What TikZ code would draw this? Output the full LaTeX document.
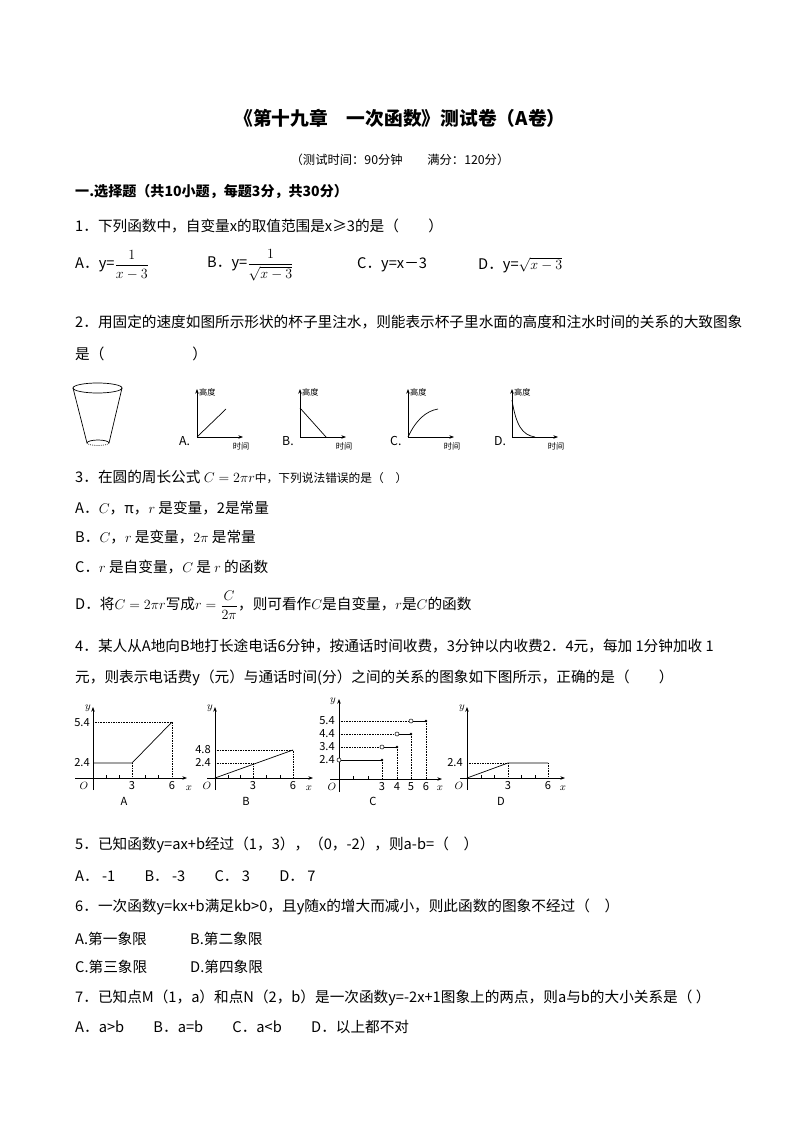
\documentclass[tikz,border=0pt]{standalone}
\usepackage{fontspec}
\setmainfont{Noto Sans CJK SC}
\usepackage{amsmath}
\usetikzlibrary{arrows.meta}
\tikzset{
  txt/.style={anchor=west, inner sep=0pt, font=\fontsize{12.5}{15}\selectfont},
  sml/.style={inner sep=0pt, font=\fontsize{7}{8}\selectfont},
  tnum/.style={inner sep=0pt, font=\fontsize{9.5}{11}\selectfont\rmfamily},
  ax/.style={-{Stealth[length=4pt]}, line width=0.6pt},
  guide/.style={densely dotted, line width=0.4pt},
  opn/.style={circle, draw, fill=white, inner sep=0pt, minimum size=3.5pt},
  cls/.style={circle, fill, inner sep=0pt, minimum size=2.5pt},
}
\begin{document}
\begin{tikzpicture}[x=0.03cm, y=-0.03cm]
  \useasboundingbox (0,0) rectangle (800,1132);
  \fill [white] (0,0) rectangle (800,1132);

  % heading
  \node [inner sep=0pt, font=\fontsize{16}{19}\selectfont\bfseries] (title) at (400,118) {《第十九章\quad 一次函数》测试卷（A卷）};
  \node [inner sep=0pt, font=\fontsize{10.5}{12}\selectfont] (time) at (400,160) {（测试时间：90分钟\qquad 满分：120分）};
  \node [txt, font=\fontsize{12}{14}\selectfont\bfseries] (sec) at (75,192) {一.选择题（共10小题，每题3分，共30分）};

  % question 1
  \node [txt] (q1) at (75,226) {1．下列函数中，自变量x的取值范围是x≥3的是（\qquad ）};
  \node [txt] (q1a) at (75,265) {A．y=\large$\dfrac{1}{x-3}$};
  \node [txt] (q1b) at (207,265) {B．y=\large$\dfrac{1}{\sqrt{x-3}}$};
  \node [txt] (q1c) at (357,265) {C．y=x－3};
  \node [txt] (q1d) at (478,265) {D．y=\large$\sqrt{x-3}$};

  % question 2
  \node [txt] (q2) at (75,322) {2．用固定的速度如图所示形状的杯子里注水，则能表示杯子里水面的高度和注水时间的关系的大致图象};
  \node [txt] (q2b) at (75,354) {是（\qquad\qquad\qquad ）};

  % cup
  \draw [line width=0.6pt] (97.5,388) ellipse (24.5 and 5);
  \draw [line width=0.6pt] (73,388) -- (87,443) (122,388) -- (109,443);
  \draw [line width=0.6pt] (87,443) arc (180:360:11 and 3);
  \draw [densely dotted, line width=0.6pt] (87,443) arc (180:0:11 and 2.5);

  % answer graphs for question 2
  \foreach \ox/\lab in {197/A, 300/B, 408/C, 512/D}{
    \draw [ax] (\ox,437) -- (\ox+46,437);
    \draw [ax] (\ox,437) -- (\ox,389);
    \node [sml, anchor=west] at (\ox+2,392) {高度};
    \node [sml] at (\ox+44,446) {时间};
    \node [txt, font=\fontsize{10.5}{12}\selectfont] at (\ox-18,441) {\lab.};
  }
  \draw [line width=0.6pt] (197,437) -- (226,409);
  \draw [line width=0.6pt] (300,408) -- (326,437);
  \draw [line width=0.6pt] (408,437) .. controls (416,420) and (426,411) .. (438,409);
  \draw [line width=0.6pt] (512,400) .. controls (516,425) and (522,435) .. (535,437);

  % question 3
  \node [txt] (q3) at (75,477) {3．在圆的周长公式 \large$C=2\pi r$\normalsize 中，下列说法错误的是（\quad ）};
  \node [txt] (q3a) at (75,508) {A．$C$，π，$r$ 是变量，2是常量};
  \node [txt] (q3b) at (75,537) {B．$C$，$r$ 是变量，$2\pi$ 是常量};
  \node [txt] (q3c) at (75,567) {C．$r$ 是自变量，$C$ 是 $r$ 的函数};
  \node [txt] (q3d) at (75,605) {D．将$C=2\pi r$写成$r=\dfrac{C}{2\pi}$，则可看作$C$是自变量，$r$是$C$的函数};

  % question 4
  \node [txt] (q4) at (75,646) {4．某人从A地向B地打长途电话6分钟，按通话时间收费，3分钟以内收费2．4元，每加 1分钟加收 1};
  \node [txt] (q4b) at (75,678) {元，则表示电话费y（元）与通话时间(分）之间的关系的图象如下图所示，正确的是（\qquad ）};

  % graph A
  \draw [ax] (75,778) -- (187,778);
  \draw [ax] (93,790) -- (93,707);
  \foreach \tx in {106,119,145,158}{\draw (\tx,778) -- (\tx,775);}
  \draw [line width=0.6pt] (93,763) -- (132,763) -- (172,722);
  \draw [guide] (93,722) -- (172,722) -- (172,778) (132,763) -- (132,778);
  \node [tnum] at (82,723) {5.4};
  \node [tnum] at (82,763) {2.4};
  \node [tnum] at (84,786) {$O$};
  \node [tnum] at (132,786) {3};
  \node [tnum] at (172,786) {6};
  \node [tnum] at (189,788) {$x$};
  \node [tnum] at (88,708) {$y$};
  \node [tnum] at (124,801) {A};

  % graph B
  \draw [ax] (207,778) -- (313,778);
  \draw [ax] (215,790) -- (215,707);
  \foreach \tx in {228,240,266,280}{\draw (\tx,778) -- (\tx,775);}
  \draw [line width=0.6pt] (215,778) -- (293,750);
  \draw [guide] (215,750) -- (293,750) -- (293,778) (215,763) -- (253,763) -- (253,778);
  \node [tnum] at (203,750) {4.8};
  \node [tnum] at (203,763) {2.4};
  \node [tnum] at (207,786) {$O$};
  \node [tnum] at (253,786) {3};
  \node [tnum] at (293,786) {6};
  \node [tnum] at (309,788) {$x$};
  \node [tnum] at (210,708) {$y$};
  \node [tnum] at (246,801) {B};

  % graph C
  \draw [ax] (330,779) -- (442,779);
  \draw [ax] (339,792) -- (339,699);
  \foreach \tx in {353,368}{\draw (\tx,779) -- (\tx,776);}
  \foreach \ya/\yb/\xa/\xb in {760/2.4/339/382, 747/3.4/382/397, 734/4.4/397/411, 721/5.4/411/426}{
    \draw [guide] (339,\ya) -- (\xa,\ya) (\xb,\ya) -- (\xb,779);
    \draw [line width=0.6pt] (\xa,\ya) -- (\xb,\ya);
    \node [opn] at (\xa,\ya) {};
    \node [cls] at (\xb,\ya) {};
    \node [tnum] at (327,\ya) {\yb};
  }
  \node [tnum] at (332,787) {$O$};
  \node [tnum] at (382,787) {3};
  \node [tnum] at (397,787) {4};
  \node [tnum] at (411,787) {5};
  \node [tnum] at (426,787) {6};
  \node [tnum] at (440,788) {$x$};
  \node [tnum] at (333,701) {$y$};
  \node [tnum] at (373,801) {C};

  % graph D
  \draw [ax] (460,778) -- (565,778);
  \draw [ax] (467,790) -- (467,707);
  \foreach \tx in {481,494,521,535}{\draw (\tx,778) -- (\tx,775);}
  \draw [line width=0.6pt] (467,778) -- (508,763) -- (548,763);
  \draw [guide] (467,763) -- (508,763) (508,763) -- (508,778) (548,763) -- (548,778);
  \node [tnum] at (455,763) {2.4};
  \node [tnum] at (459,786) {$O$};
  \node [tnum] at (508,786) {3};
  \node [tnum] at (548,786) {6};
  \node [tnum] at (563,788) {$x$};
  \node [tnum] at (462,708) {$y$};
  \node [tnum] at (501,801) {D};

  % questions 5 to 7
  \node [txt] (q5) at (75,845) {5．已知函数y=ax+b经过（1，3），（0，-2），则a-b=（\quad ）};
  \node [txt] (q5a) at (75,876) {A． -1\qquad B． -3\qquad C． 3\qquad D． 7};
  \node [txt] (q6) at (75,907) {6．一次函数y=kx+b满足kb>0，且y随x的增大而减小，则此函数的图象不经过（\quad ）};
  \node [txt] (q6a) at (75,939) {A.第一象限};
  \node [txt] (q6b) at (190,939) {B.第二象限};
  \node [txt] (q6c) at (75,967) {C.第三象限};
  \node [txt] (q6d) at (190,967) {D.第四象限};
  \node [txt] (q7) at (75,998) {7．已知点M（1，a）和点N（2，b）是一次函数y=-2x+1图象上的两点，则a与b的大小关系是（\ ）};
  \node [txt] (q7a) at (75,1027) {A．a>b\qquad B．a=b\qquad C．a<b\qquad D．以上都不对};
\end{tikzpicture}
\end{document}
